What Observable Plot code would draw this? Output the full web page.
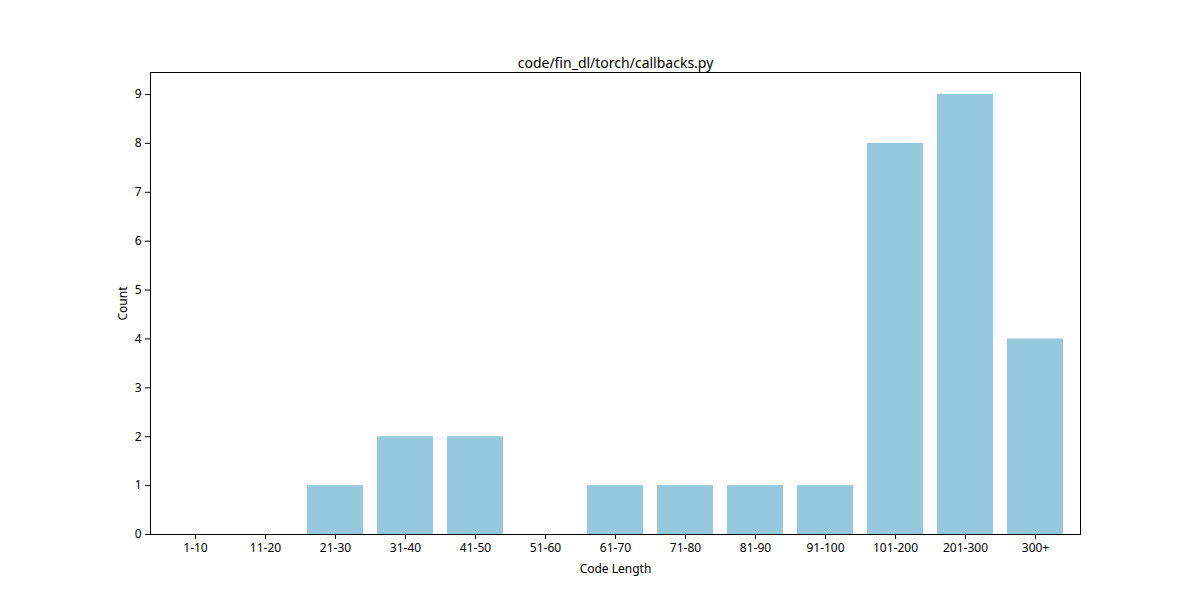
<!DOCTYPE html>
<html>
<head>
<meta charset="utf-8">
<script src="https://cdn.jsdelivr.net/npm/d3@7"></script>
<script src="https://cdn.jsdelivr.net/npm/@observablehq/plot@0.6"></script>
<style>
  body { margin: 0; background: #fff; }
</style>
</head>
<body>
<div id="chart"></div>
<script>
const categories = ["1-10", "11-20", "21-30", "31-40", "41-50", "51-60", "61-70", "71-80", "81-90", "91-100", "101-200", "201-300", "300+"];
const counts = [0, 0, 1, 2, 2, 0, 1, 1, 1, 1, 8, 9, 4];
const yTicks = [0, 1, 2, 3, 4, 5, 6, 7, 8, 9];

const data = categories.map((c, i) => ({range: c, count: counts[i]}));

const chart = Plot.plot({
  width: 1200,
  height: 600,
  marginLeft: 150,
  marginRight: 120,
  marginTop: 72,
  marginBottom: 66,
  style: {fontFamily: "Noto Sans, sans-serif", fontSize: "12px", color: "#000"},
  x: {domain: categories, padding: 0.2, label: "Code Length", labelAnchor: "center", labelOffset: 38, tickSize: 5},
  y: {domain: [0, 9.45], ticks: yTicks, tickFormat: d3.format("d"), label: "Count", labelAnchor: "center", labelArrow: "none", labelOffset: 32, tickSize: 5},
  marks: [
    Plot.barY(data, {x: "range", y: "count", fill: "#96c9dd"}),
    Plot.frame({stroke: "#000"}),
    Plot.text(["code/fin_dl/torch/callbacks.py"], {frameAnchor: "top", dy: -14, fontSize: 14})
  ]
});

d3.select("#chart").append(() => chart);
</script>
</body>
</html>
